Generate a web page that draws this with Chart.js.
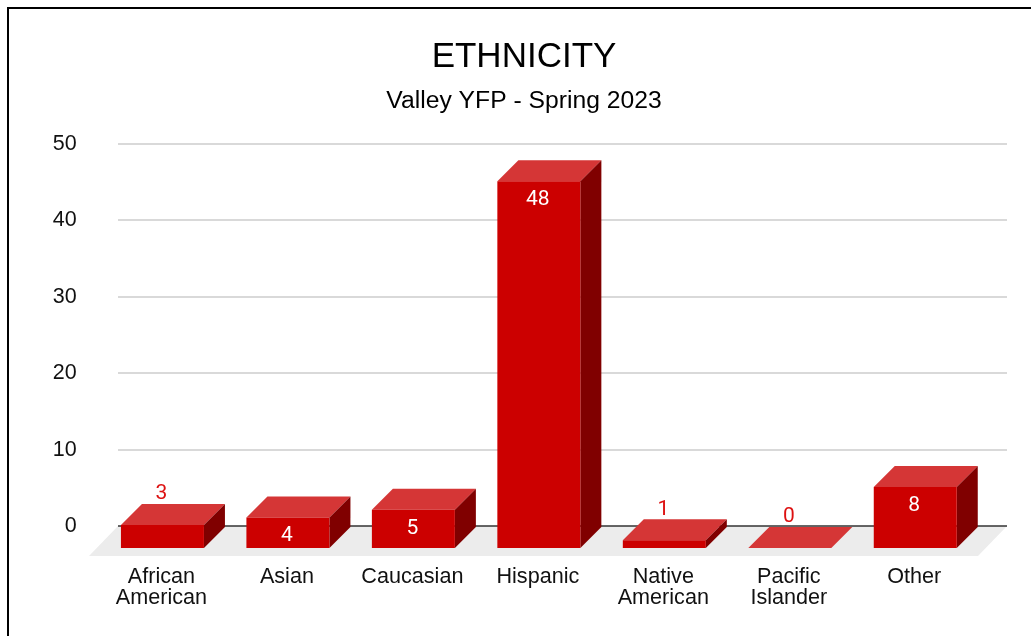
<!DOCTYPE html>
<html>
<head>
<meta charset="utf-8">
<style>
  html, body { margin: 0; padding: 0; background: #fff; overflow: hidden; }
  #chart { position: absolute; left: 0; top: 0; }
  #frame { position: absolute; left: 7px; top: 7px; right: 0; bottom: 0; border-left: 2px solid #000; border-top: 2px solid #000; pointer-events: none; }
</style>
</head>
<body>
<canvas id="chart" width="1031" height="636"></canvas>
<div id="frame"></div>
<script src="https://cdn.jsdelivr.net/npm/chart.js@4"></script>
<script>
const categories = [
  ['African', 'American'],
  'Asian',
  'Caucasian',
  'Hispanic',
  ['Native', 'American'],
  ['Pacific', 'Islander'],
  'Other',
];
const counts = [3, 4, 5, 48, 1, 0, 8];
const yTicks = [0, 10, 20, 30, 40, 50];

const FONT = '"Liberation Sans", Arial, sans-serif';
const DEPTH_X = 21;
const DEPTH_Y = 22;
const TOP_RISE = 21;
const GRID_LEFT = 118;
const GRID_RIGHT = 1007;

// faux 3D: bars sit on a floor in front of the value plane
const bar3d = {
  id: 'bar3d',
  beforeDatasetsDraw(chart) {
    const { ctx, scales } = chart;
    const y0 = scales.y.getPixelForValue(0);

    ctx.save();
    ctx.fillStyle = '#ececec';
    ctx.beginPath();
    ctx.moveTo(GRID_LEFT, y0);
    ctx.lineTo(GRID_RIGHT, y0);
    ctx.lineTo(GRID_RIGHT - 29, y0 + 30);
    ctx.lineTo(GRID_LEFT - 29, y0 + 30);
    ctx.closePath();
    ctx.fill();

    yTicks.forEach((tick) => {
      const py = Math.round(scales.y.getPixelForValue(tick));
      ctx.strokeStyle = tick === 0 ? '#333333' : '#cccccc';
      ctx.lineWidth = 1.5;
      ctx.beginPath();
      ctx.moveTo(GRID_LEFT, py);
      ctx.lineTo(GRID_RIGHT, py);
      ctx.stroke();
    });

    // top and side faces
    chart.getDatasetMeta(0).data.forEach((bar) => {
      const left = bar.x - bar.width / 2 - DEPTH_X;
      const right = left + bar.width;
      const top = bar.y + DEPTH_Y;
      const base = bar.base + DEPTH_Y;

      ctx.fillStyle = '#d53636';
      ctx.beginPath();
      ctx.moveTo(left, top);
      ctx.lineTo(left + DEPTH_X, top - TOP_RISE);
      ctx.lineTo(right + DEPTH_X, top - TOP_RISE);
      ctx.lineTo(right, top);
      ctx.closePath();
      ctx.fill();

      if (base > top) {
        ctx.fillStyle = '#800000';
        ctx.beginPath();
        ctx.moveTo(right, top);
        ctx.lineTo(right + DEPTH_X, top - TOP_RISE);
        ctx.lineTo(right + DEPTH_X, base - TOP_RISE);
        ctx.lineTo(right, base);
        ctx.closePath();
        ctx.fill();
      }
    });
    ctx.restore();
  },
  beforeDatasetDraw(chart) {
    chart.ctx.save();
    chart.ctx.translate(-DEPTH_X, DEPTH_Y);
  },
  afterDatasetDraw(chart) {
    chart.ctx.restore();
  },
  afterDatasetsDraw(chart) {
    const { ctx } = chart;
    ctx.save();
    ctx.font = '21px Roboto, ' + FONT;
    ctx.textAlign = 'center';
    ctx.textBaseline = 'middle';
    chart.getDatasetMeta(0).data.forEach((bar, i) => {
      const inside = counts[i] > 3;
      ctx.fillStyle = inside ? '#ffffff' : '#dd1111';
      const py = inside ? bar.y + DEPTH_Y + 18.5 : bar.y - 9;
      ctx.fillText(String(counts[i]), bar.x - DEPTH_X - 1, py);
    });
    ctx.restore();
  },
};

new Chart(document.getElementById('chart'), {
  type: 'bar',
  data: {
    labels: categories,
    datasets: [
      {
        data: counts,
        backgroundColor: '#cc0000',
        borderWidth: 0,
        barPercentage: 0.6615,
        categoryPercentage: 1,
      },
    ],
  },
  options: {
    responsive: false,
    animation: false,
    layout: { padding: { top: 0, right: 32, bottom: 0, left: 49 } },
    plugins: {
      legend: { display: false },
      tooltip: { enabled: false },
      title: {
        display: true,
        text: 'ETHNICITY',
        color: '#000000',
        font: { family: FONT, size: 35, weight: 'normal', lineHeight: 1.2 },
        padding: { top: 36, bottom: 8 },
      },
      subtitle: {
        display: true,
        text: 'Valley YFP - Spring 2023',
        color: '#000000',
        font: { family: FONT, size: 24.7, weight: 'normal', lineHeight: 1.2 },
        padding: { top: 0, bottom: 28.4 },
      },
    },
    scales: {
      x: {
        grid: { display: false, drawTicks: false },
        border: { display: false },
        afterFit: (scale) => { scale.height = 110; },
        ticks: {
          color: '#111111',
          font: { family: FONT, size: 21.6, lineHeight: 0.97 },
          padding: 41,
          labelOffset: -DEPTH_X - 1,
          maxRotation: 0,
          autoSkip: false,
        },
      },
      y: {
        min: 0,
        max: 50,
        grid: { display: false, drawTicks: false },
        border: { display: false },
        afterFit: (scale) => { scale.width = 71.7; },
        ticks: {
          stepSize: 10,
          color: '#111111',
          font: { family: FONT, size: 21.5 },
          padding: 44,
        },
      },
    },
  },
  plugins: [bar3d],
});
</script>
</body>
</html>
